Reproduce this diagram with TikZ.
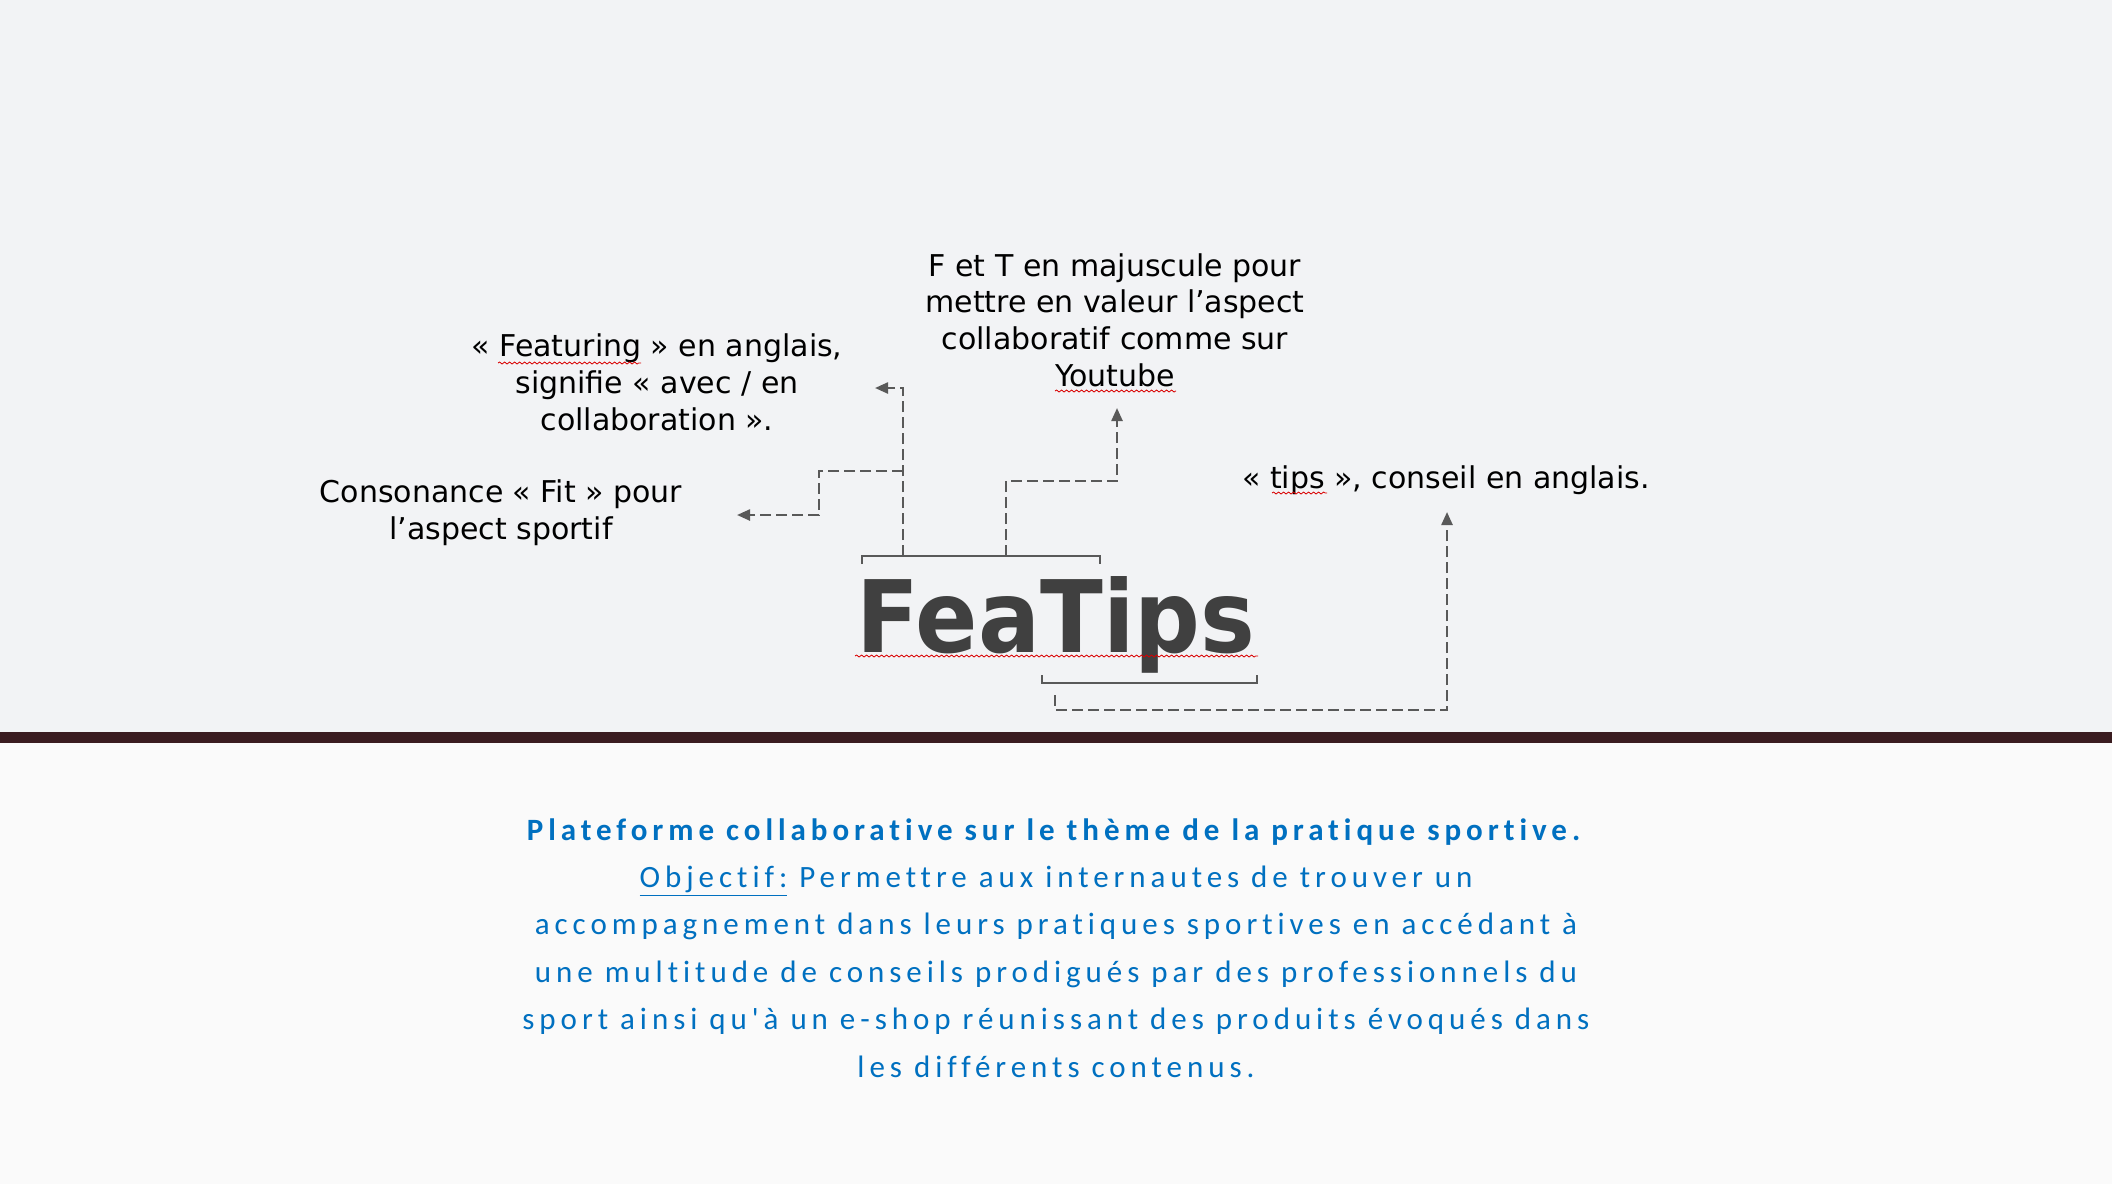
\documentclass[tikz,border=0pt]{standalone}
\usepackage{fontspec}
\setmainfont{DejaVu Sans}
\newfontfamily\bodyfont[LetterSpace=16, Ligatures=NoCommon]{Carlito}
\usetikzlibrary{arrows.meta, positioning, decorations.pathmorphing}

\definecolor{topgray}{HTML}{F2F3F5}
\definecolor{lowgray}{HTML}{FAFAFA}
\definecolor{barbrown}{HTML}{3A1C20}
\definecolor{linkgray}{HTML}{595959}
\definecolor{logogray}{HTML}{404040}
\definecolor{bodyblue}{HTML}{0070C0}

\tikzset{
  note/.style={align=center, inner sep=0pt, anchor=base, font=\fontsize{15}{18.3}\selectfont},
  link/.style={draw=linkgray, line width=1.2pt, dash pattern=on 5.5pt off 2.5pt, -{Triangle[length=6.5pt,width=5.5pt]}},
  brace/.style={draw=linkgray, line width=1.3pt},
  spell/.style={draw=red!85!black, line width=0.4pt, decorate, decoration={snake, amplitude=0.5pt, segment length=2.5pt}}
}

\begin{document}
\begin{tikzpicture}[x=0.5pt, y=-0.5pt]
	\useasboundingbox (0,0) rectangle (2112,1184);
	% background
	\fill[topgray] (0,0) rectangle (2112,732);
	\fill[lowgray] (0,743) rectangle (2112,1184);
	\fill[barbrown] (0,732) rectangle (2112,743);

	% logo
	\node[inner sep=0pt, anchor=base, xscale=0.92, text=logogray, font=\fontsize{50}{60}\selectfont\bfseries] (logo) at (1056,652) {FeaTips};

	% notes (base = last line)
	\node[note] (feat) at (657,430) {« Featuring » en anglais,\\ signifie « avec / en\\ collaboration ».};
	\node[note] (fet) at (1115,386) {F et T en majuscule pour\\ mettre en valeur l’aspect\\ collaboratif comme sur\\ Youtube};
	\node[note] (fit) at (501,539) {Consonance « Fit » pour\\ l’aspect sportif};
	\node[note] (tips) at (1446,488) {« tips », conseil en anglais.};

	% spelling marks
	\draw[spell] (498,363) -- (641,363);
	\draw[spell] (1055,391) -- (1176,391);
	\draw[spell] (1272,493) -- (1327,493);
	\draw[spell] (855,656) -- (1258,656);

	% brackets
	\draw[brace] (862,564) -- (862,556) -- (1100,556) -- (1100,564);
	\draw[brace] (1042,675) -- (1042,683) -- (1257,683) -- (1257,675);

	% connector ends
	\coordinate (featsrc) at (903,556);
	\coordinate (feattip) at (875,388);
	\coordinate (fitsrc) at (903,471);
	\coordinate (fittip) at (737,515);
	\coordinate (fetsrc) at (1006,556);
	\coordinate (fettip) at (1117,408);
	\coordinate (tipssrc) at (1055,695);
	\coordinate (tipstip) at (1447,512);

	\draw[link] (featsrc) |- (feattip);
	\draw[link] (fitsrc) -| (819,515) -- (fittip);
	\draw[link] (fetsrc) -- (1006,481) -| (fettip);
	\draw[link] (tipssrc) -- (1055,710) -| (tipstip);

	% description
	\node[align=center, inner sep=0pt, anchor=base, text=bodyblue, font=\bodyfont\fontsize{15.5}{23.7}\selectfont] (desc) at (1056,1077)
		{\textbf{Plateforme collaborative sur le thème de la pratique sportive.}\\
		\underline{Objectif:} Permettre aux internautes de trouver un\\
		accompagnement dans leurs pratiques sportives en accédant à\\
		une multitude de conseils prodigués par des professionnels du\\
		sport ainsi qu'à un e-shop réunissant des produits évoqués dans\\
		les différents contenus.};
\end{tikzpicture}
\end{document}
